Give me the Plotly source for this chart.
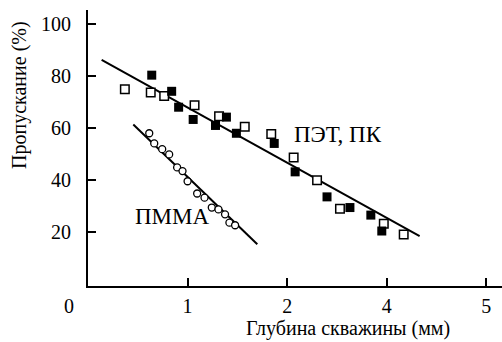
import plotly.graph_objects as go

# Data (x in axis position units, y in %)
pet_x = [0.37, 0.63, 0.765, 1.07, 1.316, 1.574, 1.84, 2.065, 2.30, 2.53, 2.97, 3.17]
pet_y = [74.9, 73.6, 72.3, 68.8, 64.5, 60.5, 57.7, 48.7, 40.0, 29.0, 23.3, 19.2]
pc_x = [0.64, 0.84, 0.91, 1.056, 1.28, 1.39, 1.49, 1.87, 2.08, 2.40, 2.63, 2.84, 2.95]
pc_y = [80.3, 74.1, 68.0, 63.3, 61.0, 64.2, 58.0, 54.1, 43.2, 33.6, 29.5, 26.6, 20.5]
pmma_x = [0.615, 0.665, 0.745, 0.815, 0.895, 0.949, 1.0, 1.096, 1.17, 1.243, 1.31, 1.376, 1.42, 1.477]
pmma_y = [58.0, 54.1, 51.9, 49.9, 44.9, 43.5, 39.6, 34.9, 33.3, 29.5, 28.8, 26.9, 23.7, 22.7]
fit_pet_x = [0.137, 3.33]
fit_pet_y = [86.2, 18.5]
fit_pmma_x = [0.455, 1.70]
fit_pmma_y = [61.4, 15.4]
x_tickvals = [1, 2, 3, 4]
x_ticktext = ["1", "2", "4", "5"]
y_tickvals = [20, 40, 60, 80, 100]

FONT = "Liberation Serif"
tfont = dict(family=FONT, size=20, color="black")
big_font = dict(family=FONT, size=23, color="black")
title_font = dict(family=FONT, size=20, color="black")

fig = go.Figure()
fig.add_trace(go.Scatter(x=fit_pet_x, y=fit_pet_y, mode="lines",
                         line=dict(color="black", width=2), showlegend=False))
fig.add_trace(go.Scatter(x=fit_pmma_x, y=fit_pmma_y, mode="lines",
                         line=dict(color="black", width=2), showlegend=False))
fig.add_trace(go.Scatter(x=pet_x, y=pet_y, mode="markers",
                         marker=dict(symbol="square", size=8.5, color="white",
                                     line=dict(color="black", width=1.5)),
                         showlegend=False))
fig.add_trace(go.Scatter(x=pc_x, y=pc_y, mode="markers",
                         marker=dict(symbol="square", size=9, color="black",
                                     line=dict(color="black", width=0)),
                         showlegend=False))
fig.add_trace(go.Scatter(x=pmma_x, y=pmma_y, mode="markers",
                         marker=dict(symbol="circle", size=7, color="white",
                                     line=dict(color="black", width=1.3)),
                         showlegend=False))

fig.add_annotation(x=2.048, y=57.4, xref="x", yref="y", text="ПЭТ, ПК",
                   showarrow=False, xanchor="left", yanchor="middle", font=big_font)
fig.add_annotation(x=0.452, y=26.0, xref="x", yref="y", text="ПММА",
                   showarrow=False, xanchor="left", yanchor="middle", font=big_font)
fig.add_annotation(x=-0.0459, y=-0.0720, xref="paper", yref="paper", text="0",
                   showarrow=False, xanchor="center", yanchor="middle", font=tfont)
fig.add_annotation(x=0.379, y=-0.2007, xref="paper", yref="paper", text="Глубина скважины (мм)",
                   showarrow=False, xanchor="left", yanchor="bottom", font=title_font,
                   borderpad=0)
fig.add_annotation(x=-0.164, y=0.6926, xref="paper", yref="paper", text="Пропускание (%)",
                   showarrow=False, xanchor="center", yanchor="middle", textangle=-90,
                   font=tfont)

fig.update_layout(
    width=502, height=342,
    margin=dict(l=88, r=0, t=10, b=56),
    paper_bgcolor="white", plot_bgcolor="white",
    font=tfont,
    xaxis=dict(range=[0, 4.157], tickvals=x_tickvals, ticktext=x_ticktext,
               ticks="inside", ticklen=8, tickwidth=1.5, tickcolor="black",
               showline=True, linecolor="black", linewidth=2, showgrid=False,
               zeroline=False, ticklabelstandoff=1, tickfont=tfont),
    yaxis=dict(range=[-0.6, 105.3], tickvals=y_tickvals,
               ticks="inside", ticklen=8, tickwidth=1.5, tickcolor="black",
               showline=True, linecolor="black", linewidth=2, showgrid=False,
               zeroline=False, ticklabelstandoff=11, tickfont=tfont),
)

fig.write_html("out.html")
